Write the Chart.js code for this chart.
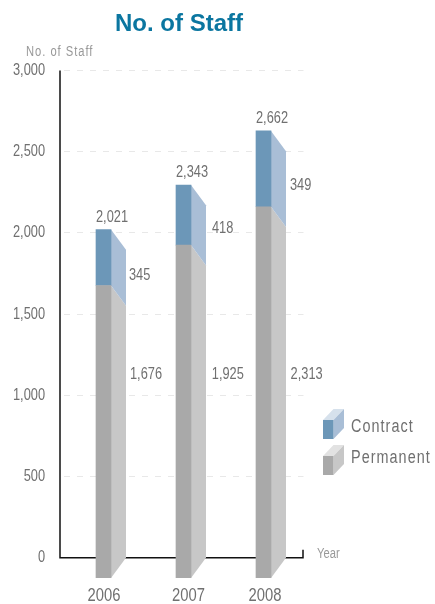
<!DOCTYPE html>
<html>
<head>
<meta charset="utf-8">
<style>html,body{margin:0;padding:0;background:#fff}canvas{display:block}</style>
<script src="https://cdn.jsdelivr.net/npm/chart.js@4"></script>
</head>
<body>
<canvas id="c" width="435" height="604"></canvas>
<script>
const categories = ['2006', '2007', '2008'];
const yTicks = [0, 500, 1000, 1500, 2000, 2500, 3000];
// Printed figures
const totalLabels = [2021, 2343, 2662];
const contractLabels = [345, 418, 349];
const permanentLabels = [1676, 1925, 2313];
// Column tops as drawn in the picture (the source art differs from the printed figures)
const permanentTops = [1676, 1925, 2161];
const totalTops = [2021, 2295, 2628];
const seriesNames = ['Contract', 'Permanent'];

const SANS = '"Liberation Sans",Arial,sans-serif';
const GREY = '#707070';
const BLUE = { front: '#6c97b8', side: '#a9bed6', top: '#d6e1ec' };
const SILVER = { front: '#a9a9a9', side: '#c7c7c7', top: '#e2e2e2' };
const AXIS_FLOOR = -125;
const NARROW_X = 0.8;
const fmt = v => v.toLocaleString('en-US');

function poly(ctx, pts, color) {
  ctx.fillStyle = color;
  ctx.beginPath();
  pts.forEach((p, i) => i ? ctx.lineTo(p[0], p[1]) : ctx.moveTo(p[0], p[1]));
  ctx.closePath();
  ctx.fill();
}
// Real text, horizontally condensed to match the narrow face of the reference.
function text(ctx, str, x, y, size, color, align, spacing) {
  ctx.save();
  ctx.translate(x, y);
  ctx.scale(NARROW_X, 1);
  ctx.font = size + 'px ' + SANS;
  ctx.fillStyle = color;
  ctx.textAlign = align || 'left';
  ctx.textBaseline = 'middle';
  ctx.letterSpacing = spacing || '0px';
  ctx.fillText(str, 0, 0);
  ctx.restore();
}

const staffPlugin = {
  id: 'staffPlugin',
  afterLayout(chart) {
    chart.titleBlock.left = 0;
    chart.titleBlock.right = 358;
  },
  beforeDatasetsDraw(chart) {
    const { ctx, scales: { x, y } } = chart;
    const zero = y.getPixelForValue(0);
    const top = y.getPixelForValue(3000);
    const foot = y.getPixelForValue(AXIS_FLOOR);
    const drop = foot - zero;
    ctx.save();
    ctx.strokeStyle = '#111';
    ctx.lineWidth = 1.5;
    ctx.beginPath();
    ctx.moveTo(60, top);
    ctx.lineTo(60, zero);
    ctx.lineTo(303, zero);
    ctx.lineTo(303, zero - 8);
    ctx.stroke();

    const meta = chart.getDatasetMeta(0);
    categories.forEach((c, i) => {
      const bar = meta.data[i];
      const l = bar.x + bar.width / 2;
      const r = l + bar.width;
      const pTop = y.getPixelForValue(permanentTops[i]);
      const tTop = y.getPixelForValue(totalTops[i]);
      poly(ctx, [[l, pTop], [r, pTop + drop], [r, zero], [l, foot]], SILVER.side);
      poly(ctx, [[l, tTop], [r, tTop + drop], [r, pTop + drop], [l, pTop]], BLUE.side);
    });
    ctx.restore();
  },
  afterDatasetsDraw(chart) {
    const { ctx, scales: { x, y } } = chart;
    const meta = chart.getDatasetMeta(0);
    const sideNudge = [0, 3, 1];
    const contractMid = [-2, -6, -3.5];
    const yearNudge = [0.5, 5, 1.5];
    ctx.save();
    yTicks.forEach(v => {
      text(ctx, fmt(v), 45, y.getPixelForValue(v), 16, GREY, 'right');
    });
    categories.forEach((c, i) => {
      const bar = meta.data[i];
      const left = bar.x - bar.width / 2;
      const right = bar.x + bar.width / 2;
      const pTop = y.getPixelForValue(permanentTops[i]);
      const tTop = y.getPixelForValue(totalTops[i]);
      text(ctx, c, x.getPixelForTick(i) + yearNudge[i], 595.5, 18.5, GREY, 'center');
      text(ctx, fmt(totalLabels[i]), left, tTop - 12, 16, GREY);
      text(ctx, fmt(contractLabels[i]), right + 18 + sideNudge[i], (tTop + pTop) / 2 + 20 + contractMid[i], 16, GREY);
      text(ctx, fmt(permanentLabels[i]), right + 19 + sideNudge[i] * 0.6, y.getPixelForValue(1130), 16, GREY);
    });
    text(ctx, 'No. of Staff', 26, 52, 14, '#999999', 'left', '1.2px');
    text(ctx, 'Year', 317, 554, 14, '#999999');

    // legend
    const rows = [[BLUE, 420, 427], [SILVER, 456, 458]];
    rows.forEach((row, i) => {
      const [col, t, ty] = row;
      const h = 19;
      poly(ctx, [[323, t], [333.5, t], [344, t - 11], [333.5, t - 11]], col.top);
      poly(ctx, [[333.5, t], [344, t - 11], [344, t + h - 11], [333.5, t + h]], col.side);
      poly(ctx, [[323, t], [333.5, t], [333.5, t + h], [323, t + h]], col.front);
      text(ctx, seriesNames[i], 351, ty, 18, GREY, 'left', '1.3px');
    });
    ctx.restore();
  }
};

new Chart(document.getElementById('c'), {
  type: 'bar',
  data: {
    labels: categories,
    datasets: [
      {
        label: seriesNames[1],
        data: permanentTops.map(v => [AXIS_FLOOR, v]),
        backgroundColor: SILVER.front,
        barThickness: 15,
        grouped: false
      },
      {
        label: seriesNames[0],
        data: totalTops.map((v, i) => [permanentTops[i], v]),
        backgroundColor: BLUE.front,
        barThickness: 15,
        grouped: false
      }
    ]
  },
  options: {
    responsive: false,
    animation: false,
    layout: { padding: { left: 0, right: 131.5, top: 0, bottom: 0 } },
    plugins: {
      legend: { display: false },
      tooltip: { enabled: false },
      title: {
        display: true,
        text: 'No. of Staff',
        color: '#0b76a0',
        font: { family: SANS, size: 24, weight: 'bold', lineHeight: 1.2 },
        padding: { top: 10, bottom: 31.7 }
      }
    },
    scales: {
      x: {
        offset: true,
        grid: { display: false, drawTicks: false },
        border: { display: false },
        afterFit(s) { s.height = 26; },
        ticks: { display: false }
      },
      y: {
        min: AXIS_FLOOR,
        max: 3000,
        afterBuildTicks(s) { s.ticks = yTicks.map(value => ({ value })); },
        afterFit(s) { s.width = 63.5; },
        grid: { color: '#e8e8e8', lineWidth: 1, drawTicks: false },
        border: { display: false, dash: [6, 7] },
        ticks: { display: false }
      }
    }
  },
  plugins: [staffPlugin]
});
</script>
</body>
</html>
